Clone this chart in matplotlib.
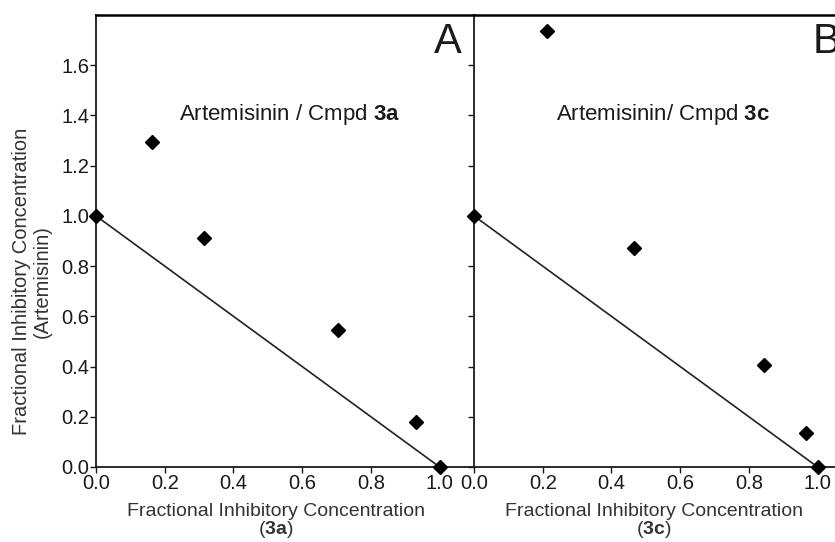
import matplotlib
matplotlib.use("Agg")
import matplotlib.pyplot as plt

plt.rcParams['font.family'] = ['Liberation Sans', 'DejaVu Sans']
plt.rcParams['mathtext.fontset'] = 'custom'
plt.rcParams['mathtext.rm'] = 'Liberation Sans'
plt.rcParams['mathtext.bf'] = 'Liberation Sans:bold'

# panel A: artemisinin / compound 3a
fic_3a = [0.0, 0.163, 0.315, 0.703, 0.93, 1.0]
fic_art_a = [1.0, 1.295, 0.912, 0.546, 0.18, 0.0]

# panel B: artemisinin / compound 3c
fic_3c = [0.0, 0.213, 0.465, 0.845, 0.965, 1.0]
fic_art_b = [1.0, 1.737, 0.873, 0.406, 0.135, 0.0]

# additivity line
iso_x = [0.0, 1.0]
iso_y = [1.0, 0.0]

yticks = [0.0, 0.2, 0.4, 0.6, 0.8, 1.0, 1.2, 1.4, 1.6]
xticks = [0.0, 0.2, 0.4, 0.6, 0.8, 1.0]

fig = plt.figure(figsize=(8.35, 5.42), dpi=100)
axA = fig.add_axes([96/835, 1-467/542, 378/835, 452/542])
axB = fig.add_axes([474/835, 1-467/542, 378/835, 452/542])

panels = [
    (axA, fic_3a, fic_art_a, '3a', 'A'),
    (axB, fic_3c, fic_art_b, '3c', 'B'),
]

for ax, xs, ys, cmpd, letter in panels:
    ax.plot(iso_x, iso_y, color='#222222', lw=1.2, zorder=2)
    ax.plot(xs, ys, linestyle='none', marker='D', ms=7, color='black', zorder=3, clip_on=False)
    ax.set_xlim(0, 1.1)
    ax.set_ylim(0, 1.8)
    ax.set_xticks(xticks)
    ax.set_xticklabels(['%.1f' % v for v in xticks])
    ax.set_yticks(yticks)
    ax.tick_params(direction='out', length=4, width=1, labelsize=14.5, colors='#1a1a1a', pad=1)
    for s in ['left', 'bottom']:
        ax.spines[s].set_linewidth(1.3)
        ax.spines[s].set_color('#1a1a1a')
    ax.spines['top'].set_linewidth(1.8)
    ax.spines['right'].set_visible(False)
    ax.set_xlabel('Fractional Inhibitory Concentration\n($\\mathbf{%s}$)' % cmpd,
                  fontsize=14, color='#333333', linespacing=0.95)
    ax.xaxis.set_label_coords(0.476, -0.079, transform=ax.transAxes)
    ax.xaxis.label.set_va('top')
    ax.text(0.968, 0.985, letter, transform=ax.transAxes, ha='right', va='top',
            fontsize=30, color='#1a1a1a')

axA.text(0.513, 0.78, 'Artemisinin / Cmpd $\\mathbf{3a}$', transform=axA.transAxes,
         ha='center', va='center', fontsize=16, color='#1a1a1a')
axB.text(0.50, 0.78, 'Artemisinin/ Cmpd $\\mathbf{3c}$', transform=axB.transAxes,
         ha='center', va='center', fontsize=16, color='#1a1a1a')

axA.set_yticklabels(['%.1f' % v for v in yticks])
axB.set_yticklabels([])
axA.set_ylabel('Fractional Inhibitory Concentration\n(Artemisinin)', fontsize=14.5,
               color='#333333', linespacing=1.15)
axA.yaxis.set_label_coords(-0.169, 0.41)
axA.yaxis.label.set_va('center')

fig.savefig('out.png', dpi=100)
